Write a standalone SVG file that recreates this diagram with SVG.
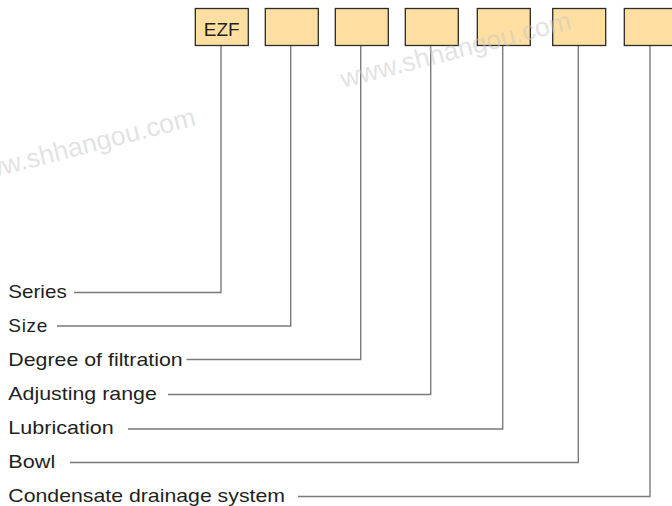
<svg xmlns="http://www.w3.org/2000/svg" width="672" height="506" viewBox="0 0 672 506">
<style>
.box{fill:#FEDFA1;stroke:#2b2b2b;stroke-width:1.3}
.wm{font-family:"Liberation Sans",Arial,sans-serif;font-size:26.5px;fill:#c6c6c6;fill-opacity:0.5}
.lbl{font-family:"Liberation Sans",Arial,sans-serif;font-size:19px;fill:#231f20}
.con{fill:none;stroke:#7a7a7a;stroke-width:1.4}
</style>
<rect width="672" height="506" fill="#ffffff"/>
<g id="connectors">
<polyline class="con" points="221,45.5 221,292.5 74,292.5"/>
<polyline class="con" points="290.7,45.5 290.7,326 57,326"/>
<polyline class="con" points="360.7,45.5 360.7,359.5 186.5,359.5"/>
<polyline class="con" points="430.7,45.5 430.7,394.5 168,394.5"/>
<polyline class="con" points="502.7,45.5 502.7,429 128,429"/>
<polyline class="con" points="578.3,45.5 578.3,462.5 70,462.5"/>
<polyline class="con" points="650,45.5 650,496.5 298,496.5"/>
</g>
<g id="box1"><rect class="box" x="195.3" y="8.5" width="53" height="37"/><text class="lbl" x="221.8" y="36" text-anchor="middle">EZF</text></g>
<g id="box2"><rect class="box" x="265.3" y="8.5" width="53" height="37"/></g>
<g id="box3"><rect class="box" x="335.3" y="8.5" width="53" height="37"/></g>
<g id="box4"><rect class="box" x="405.3" y="8.5" width="53" height="37"/></g>
<g id="box5"><rect class="box" x="477.3" y="8.5" width="53" height="37"/></g>
<g id="box6"><rect class="box" x="552.7" y="8.5" width="53" height="37"/></g>
<g id="box7"><rect class="box" x="624.3" y="8.5" width="53" height="37"/></g>
<g id="label-series"><text class="lbl" x="8.3" y="298" textLength="58.4" lengthAdjust="spacingAndGlyphs">Series</text></g>
<g id="label-size"><text class="lbl" x="8.3" y="332" textLength="39">Size</text></g>
<g id="label-degree"><text class="lbl" x="8.3" y="366" textLength="174.4" lengthAdjust="spacingAndGlyphs">Degree of filtration</text></g>
<g id="label-adjusting"><text class="lbl" x="8.3" y="400" textLength="148.5" lengthAdjust="spacingAndGlyphs">Adjusting range</text></g>
<g id="label-lubrication"><text class="lbl" x="8.3" y="434" textLength="105.5" lengthAdjust="spacingAndGlyphs">Lubrication</text></g>
<g id="label-bowl"><text class="lbl" x="8.3" y="468" textLength="47" lengthAdjust="spacingAndGlyphs">Bowl</text></g>
<g id="label-condensate"><text class="lbl" x="8.3" y="502" textLength="276.7" lengthAdjust="spacingAndGlyphs">Condensate drainage system</text></g>
<text class="wm" x="197" y="125" text-anchor="end" transform="rotate(-14.5 197 125)">www.shhangou.com</text>
<text class="wm" x="343" y="88" transform="rotate(-14.5 343 88)">www.shhangou.com</text>
</svg>
